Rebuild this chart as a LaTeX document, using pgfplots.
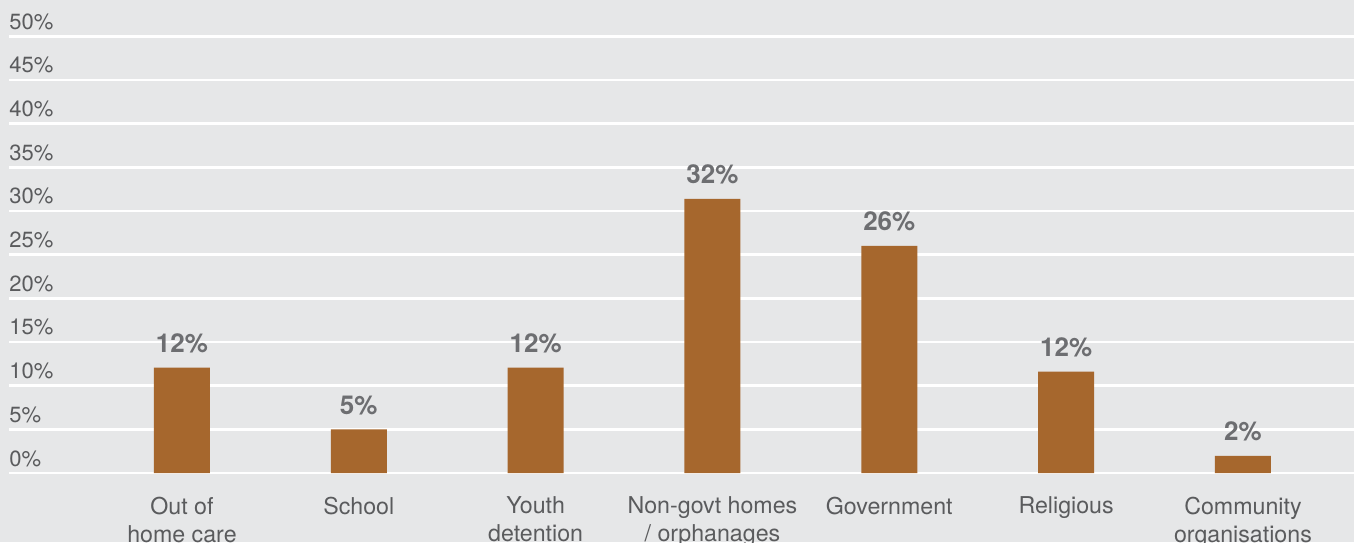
\documentclass[border=0pt]{standalone}
\usepackage{pgfplots}
\pgfplotsset{compat=1.18}
\usepackage{fontspec}
\setmainfont{TeX Gyre Heros}
\definecolor{bgcol}{HTML}{E6E7E8}
\definecolor{barcol}{HTML}{A6672D}
\definecolor{ticktext}{HTML}{5A5B5D}
\definecolor{labtext}{HTML}{6D6E71}
\begin{document}
\begin{tikzpicture}
% 1px of the reference = 0.5pt
\fill[bgcol] (0,0) rectangle (677pt,271pt);
\path[use as bounding box] (0,0) rectangle (677pt,271pt);
\begin{axis}[
  at={(4.5pt,34.5pt)}, anchor=south west,
  scale only axis,
  width=672.5pt, height=218.35pt,
  xmin=-0.978, xmax=6.628,
  ymin=0, ymax=50,
  clip=false,
  axis line style={draw=none},
  tick style={draw=none},
  ytick={0,5,...,50},
  yticklabels={0\%,5\%,10\%,15\%,20\%,25\%,30\%,35\%,40\%,45\%,50\%},
  yticklabel style={anchor=base west, inner sep=0pt, yshift=3.5pt,
    font=\fontsize{11}{13}\selectfont, text=ticktext},
  ymajorgrids=true,
  grid style={white, line width=1.4pt},
  xtick={0,1,2,3,4,5,6},
  xticklabels={{Out of\\home care},School,{Youth\\detention},{Non-govt homes\\/ orphanages},Government,Religious,{Community\\organisations}},
  xticklabel style={align=center, anchor=north, inner sep=0pt, yshift=-7.5pt,
    font=\fontsize{11.6}{14}\selectfont, text=ticktext},
  ybar, bar width=28pt,
  point meta=explicit symbolic,
  nodes near coords,
  nodes near coords style={anchor=base, inner sep=0pt, yshift=7.5pt,
    font=\fontsize{13}{15}\selectfont\bfseries, text=labtext},
]
\addplot[fill=barcol, draw=none] coordinates {
  (0,12.07) [12\%]
  (1,5.0)   [5\%]
  (2,12.07) [12\%]
  (3,31.4)  [32\%]
  (4,26.0)  [26\%]
  (5,11.6)  [12\%]
  (6,1.95)  [2\%]
};
\end{axis}
\end{tikzpicture}
\end{document}
